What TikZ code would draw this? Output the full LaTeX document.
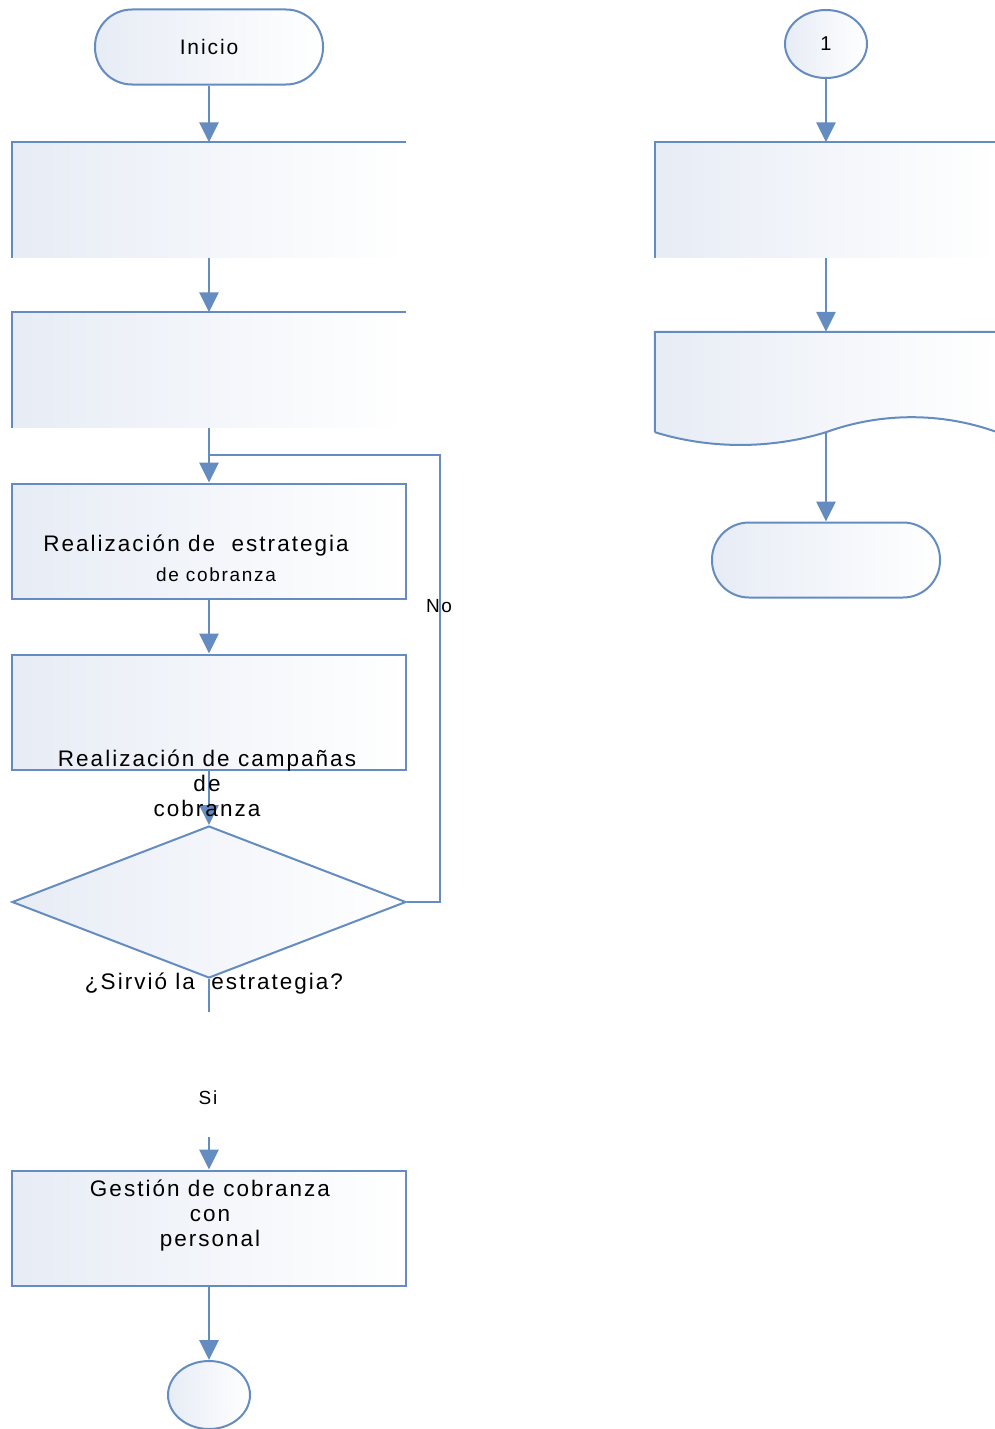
\documentclass[tikz,border=0pt]{standalone}
\usepackage{fontspec}
\setmainfont{Liberation Sans}[LetterSpace=9]
\usetikzlibrary{shapes.geometric,arrows.meta}
\definecolor{flowblue}{RGB}{100,140,192}
\definecolor{fillc}{RGB}{231,236,245}

\begin{document}
\begin{tikzpicture}[x=1pt,y=-1pt,>={Stealth[length=20pt,width=19pt,inset=0pt]},
  border/.style={draw=flowblue,line width=2pt},
  shade box/.style={left color=fillc,right color=white},
  procfill/.style={rectangle,shade box,minimum width=394pt,minimum height=115pt,inner sep=0pt},
  proc/.style={procfill,border},
  term/.style={rectangle,rounded corners=37pt,shade box,border,minimum width=228pt,minimum height=75pt,inner sep=0pt,font=\fontsize{21}{25}\selectfont},
  conn/.style={ellipse,shade box,border,minimum width=82pt,minimum height=68pt,inner sep=0pt,font=\fontsize{20}{24}\selectfont},
  dec/.style={diamond,aspect=2.6,shade box,border,minimum width=394pt,minimum height=152pt,inner sep=0pt},
  flow/.style={->,draw=flowblue,line width=2.8pt},
  line/.style={draw=flowblue,line width=2.8pt},
  txt/.style={align=center,inner sep=0pt,font=\fontsize{22.5}{25}\selectfont},
  stxt/.style={align=center,inner sep=0pt,font=\fontsize{19}{22}\selectfont}]

  \useasboundingbox (0,0) rectangle (994,1429);

  % left column
  \node[term] (ini) at (209,47) {Inicio};
  \node[procfill] (b1) [below of=ini, node distance=153pt] {};
  \node[procfill] (b2) [below of=b1, node distance=170pt] {};
  \node[proc] (b3) [below of=b2, node distance=171pt] {};
  \node[proc] (b4) [below of=b3, node distance=171pt] {};
  \node[dec] (d) [below of=b4, node distance=190pt] {};
  \node[proc] (b5) [below of=d, node distance=326pt] {};
  \node[conn] (fin) [below of=b5, node distance=167pt] {};

  \draw[border] (b1.south west) -- (b1.north west) -- (b1.north east);
  \draw[border] (b2.south west) -- (b2.north west) -- (b2.north east);

  \coordinate[below of=d, node distance=110pt] (sia);
  \coordinate[above of=b5, node distance=91pt] (sib);
  \coordinate (lp) at (440,455);
  \coordinate (jn) at (209,455);

  \draw[flow] (ini) -- (b1);
  \draw[flow] (b1) -- (b2);
  \draw[flow] (b2) -- (b3);
  \draw[flow] (b3) -- (b4);
  \draw[flow] (b4) -- (d);
  \draw[line] (d) -- (sia);
  \draw[flow] (sib) -- (b5);
  \draw[flow] (b5) -- (fin);
  \draw[line] (d.east) -| (lp) -- (jn);

  % right column
  \node[conn] (c1) at (826,44) {1};
  \node[procfill, minimum width=342pt] (b6) [below of=c1, node distance=156pt] {};
  \node[rectangle, minimum width=342pt, minimum height=100pt, inner sep=0pt] (b7) [below of=b6, node distance=182pt] {};
  \node[term] (fin2) [below of=b7, node distance=178pt] {};

  \draw[border] (b6.south west) -- (b6.north west) -- (b6.north east);
  \shade[shade box] (b7.south west) -- (b7.north west) -- (b7.north east) -- (b7.south east)
    .. controls +(-55,-20) and +(55,-20) .. (b7.south)
    .. controls +(-55,17) and +(55,17) .. (b7.south west) -- cycle;
  \draw[border] (b7.south west) -- (b7.north west) -- (b7.north east) -- (b7.south east)
    .. controls +(-55,-20) and +(55,-20) .. (b7.south)
    .. controls +(-55,17) and +(55,17) .. (b7.south west);

  \draw[flow] (c1) -- (b6);
  \draw[flow] (b6) -- (b7);
  \draw[flow] (b7.south) -- (fin2);

  % texts
  \node[txt] (t3a) at (196,546) {Realización de~~estrategia};
  \node[stxt] (t3b) at (216,575) {de cobranza};
  \node[txt] (t4) at (207,783) {Realización de campañas\\de\\cobranza};
  \node[txt] (td) at (214,984) {¿Sirvió la~~estrategia?};
  \node[stxt] (tsi) at (208,1098) {Si};
  \node[stxt] (tno) at (439,606) {No};
  \node[txt] (t5) at (210,1216) {Gestión de cobranza\\con\\personal};
\end{tikzpicture}
\end{document}
